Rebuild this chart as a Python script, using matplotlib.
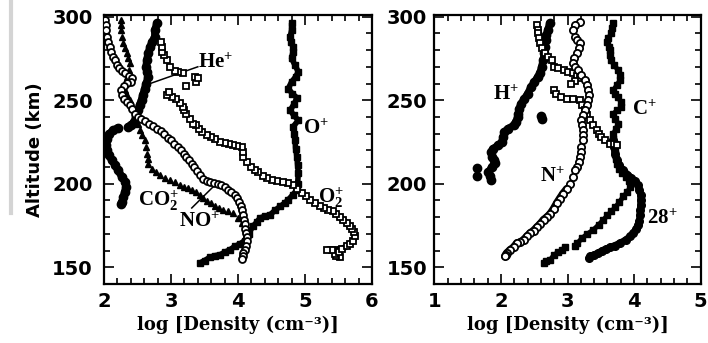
import matplotlib
matplotlib.use("Agg")
import matplotlib.pyplot as plt
import numpy as np
from matplotlib.lines import Line2D
from matplotlib.ticker import MultipleLocator

plt.rcParams['mathtext.fontset'] = 'custom'
plt.rcParams['mathtext.rm'] = 'Liberation Serif'
plt.rcParams['mathtext.bf'] = 'Liberation Serif:bold'
plt.rcParams['mathtext.default'] = 'bf'

nan = np.nan

# ---- left panel: (log density, altitude km) ----
he_plus = np.array([
    (2.79, 296), (2.76, 292), (2.76, 288), (2.72, 285), (2.69, 282), (2.66, 278),
    (2.64, 274), (2.63, 270), (2.64, 267), (2.66, 264), (2.63, 260), (2.61, 257),
    (2.58, 253), (2.56, 250), (2.53, 247), (2.51, 244), (2.48, 240), (2.45, 237),
    (2.40, 235), (2.36, 234), (nan, nan),
    (2.21, 233.5), (2.14, 232), (2.08, 230), (2.04, 227), (2.03, 223), (2.04, 220),
    (2.07, 217), (2.12, 214), (2.17, 211), (2.21, 208), (2.27, 204), (2.32, 201),
    (2.33, 198), (2.31, 195), (2.29, 192), (2.27, 189), (2.26, 188)])

o_plus = np.array([
    (3.43, 152.6), (3.50, 154), (3.58, 156), (3.66, 157), (3.73, 157.5), (3.80, 159),
    (3.88, 160.5), (3.95, 162.5), (4.03, 164), (4.10, 166), (4.16, 170), (4.22, 174.5),
    (4.28, 177), (4.33, 179.6), (4.40, 180.5), (4.48, 181.5), (4.55, 184), (4.63, 186.5),
    (4.70, 188.5), (4.75, 190.4), (4.82, 193.5), (4.88, 196.4), (4.89, 200), (4.90, 206.5),
    (4.89, 211), (4.88, 216), (4.86, 221), (4.85, 226), (4.84, 230), (4.82, 234),
    (4.90, 238), (4.83, 241), (4.78, 244), (4.84, 248), (4.88, 251.4), (4.81, 254),
    (4.75, 257), (4.80, 261), (4.86, 264), (4.90, 267), (4.85, 271), (4.80, 275),
    (4.82, 279), (4.82, 282), (4.79, 285), (4.78, 288), (4.80, 292), (4.80, 296)])

o2_plus = np.array([
    (5.52, 156), (5.47, 156.5), (5.45, 158), (5.50, 159), (5.40, 160.5), (5.33, 160.5),
    (5.55, 161), (5.62, 162.5), (5.67, 164), (5.72, 166), (5.75, 168.5), (5.73, 171),
    (5.70, 173), (5.67, 174.5), (5.62, 176.5), (5.57, 178.5), (5.52, 180), (5.47, 182),
    (5.42, 183.5), (5.35, 184.5), (5.28, 185.5), (5.22, 186.5), (5.15, 188.5), (5.07, 190.4),
    (5.01, 192.5), (4.95, 194.4), (4.88, 197), (4.82, 199), (4.75, 200.4), (4.67, 200.8),
    (4.58, 201.4), (4.50, 202.5), (4.43, 203.5), (4.38, 204.4), (4.30, 207), (4.25, 208.5),
    (4.20, 210.3), (4.14, 213), (4.08, 216), (4.07, 219), (4.06, 222), (3.99, 222.5),
    (3.93, 223), (3.86, 224), (3.80, 224.5), (3.73, 225), (3.66, 226.5), (3.60, 228),
    (3.53, 229), (3.47, 231), (3.42, 233), (3.37, 235), (3.33, 236), (3.29, 239),
    (3.23, 242), (3.20, 244), (3.18, 246), (3.14, 248.5), (3.08, 251), (3.01, 252),
    (2.94, 253), (2.97, 255), (3.23, 258.6), (3.38, 261), (3.36, 264), (3.40, 263),
    (3.18, 266), (3.10, 267), (3.06, 267.5), (2.99, 270), (2.94, 274), (2.90, 277),
    (2.86, 279), (2.87, 282), (2.85, 285)])

no_plus = np.array([
    (2.02, 298), (2.03, 295), (2.03, 292), (2.04, 288), (2.06, 285), (2.09, 282),
    (2.11, 279), (2.13, 276), (2.16, 274), (2.19, 271), (2.23, 269), (2.27, 267.5),
    (2.32, 266), (2.37, 264.5), (2.42, 263), (2.40, 261), (2.35, 260.5), (2.30, 258.5),
    (2.26, 256), (2.27, 253), (2.30, 251), (2.35, 249), (2.39, 247), (2.42, 244.5),
    (2.46, 242), (2.50, 240), (2.55, 238.5), (2.61, 237.5), (2.67, 236), (2.73, 234.5),
    (2.79, 233), (2.85, 231.5), (2.90, 229.5), (2.95, 227.5), (3.00, 226), (3.05, 224),
    (3.10, 222), (3.15, 220), (3.19, 218), (3.23, 216), (3.27, 214), (3.31, 212),
    (3.35, 210), (3.39, 207.5), (3.43, 205), (3.48, 203), (3.53, 201.5), (3.58, 201),
    (3.64, 200.5), (3.70, 200), (3.75, 199), (3.80, 198), (3.85, 196.5), (3.90, 195),
    (3.95, 193.5), (3.99, 191.5), (4.02, 189), (4.04, 186.5), (4.06, 184), (4.08, 181),
    (4.09, 178.5), (4.10, 176), (4.11, 173), (4.12, 170.5), (4.13, 168), (4.13, 165.5),
    (4.12, 163), (4.10, 160.5), (4.08, 158.5), (4.07, 156.5), (4.06, 155)])

co2_plus = np.array([
    (2.26, 298), (2.26, 295), (2.26, 292), (2.27, 288), (2.29, 284), (2.31, 281),
    (2.34, 278), (2.36, 275), (2.39, 272), (2.37, 268), (2.34, 264), (2.32, 260),
    (2.31, 256), (2.35, 253), (2.39, 250), (2.42, 246), (2.46, 242), (2.48, 239),
    (2.51, 235.5), (2.54, 232), (2.57, 229), (2.61, 226), (2.63, 222), (2.64, 218),
    (2.65, 215), (2.66, 212), (2.72, 209), (2.78, 207), (2.84, 205), (2.91, 203.5),
    (2.99, 202.4), (3.06, 200.8), (3.13, 199.4), (3.20, 198.2), (3.25, 197.3), (3.31, 196.4),
    (3.37, 194.8), (3.43, 193), (3.48, 191.5), (3.54, 189.8), (3.60, 188.2), (3.66, 186.5),
    (3.72, 185.5), (3.78, 184.5), (3.85, 183.5), (3.93, 182.5), (4.00, 179.5), (4.06, 176.5)])

# ---- right panel ----
h_plus = np.array([
    (2.73, 296), (2.70, 292), (2.68, 289), (2.67, 286), (2.66, 282), (2.65, 278),
    (2.63, 274), (2.61, 270), (2.58, 266), (2.55, 264), (2.50, 261), (2.45, 258),
    (2.40, 254), (2.35, 251), (2.30, 248), (2.27, 245), (2.26, 242), (2.25, 240),
    (2.22, 237), (2.19, 235), (2.10, 233), (2.05, 231), (2.03, 228), (2.01, 225),
    (1.95, 223), (1.88, 221), (1.85, 219), (1.86, 216), (1.89, 214), (1.91, 212.5),
    (1.86, 210), (1.81, 207), (1.83, 204.5), (1.85, 202)])
h_plus_extra = np.array([(1.64, 209.4), (1.64, 204.4), (2.60, 240.5), (2.62, 238.5)])

n_plus = np.array([
    (3.19, 297), (3.12, 295), (3.09, 292), (3.11, 288), (3.15, 286), (3.19, 284),
    (3.17, 281), (3.14, 278), (3.10, 275), (3.09, 272), (3.12, 270), (3.16, 268),
    (3.21, 265), (3.26, 262), (3.29, 259), (3.31, 256), (3.32, 253), (3.31, 250),
    (3.29, 247), (3.26, 244), (3.23, 241), (3.21, 238), (3.22, 235), (3.24, 232),
    (3.24, 229), (3.23, 226), (3.21, 222), (3.20, 219), (3.19, 216), (3.17, 213),
    (3.14, 210), (3.11, 208), (3.08, 204), (3.04, 200), (2.99, 197), (2.93, 194),
    (2.88, 191), (2.84, 188.5), (2.79, 185), (2.74, 182), (2.69, 180), (2.64, 178.5),
    (2.59, 176), (2.54, 174), (2.49, 172), (2.44, 170.5), (2.39, 168.5), (2.34, 166.5),
    (2.29, 165), (2.24, 164.5), (2.19, 162), (2.14, 160.5), (2.09, 158.6), (2.07, 157.5),
    (2.06, 156.5)])

sq_right = np.array([
    (2.54, 295), (2.55, 292), (2.56, 290), (2.57, 287), (2.59, 284), (2.62, 281),
    (2.66, 278), (2.71, 276), (2.76, 274), (2.79, 270), (2.86, 269), (2.94, 268),
    (3.01, 267), (3.09, 266), (3.15, 264.5), (3.19, 263), (3.12, 261.5), (3.05, 260),
    (2.79, 256), (2.83, 254), (2.90, 252), (2.99, 251), (3.08, 250.5), (3.19, 250),
    (3.22, 247), (3.26, 244), (3.30, 241), (3.34, 238), (3.39, 235), (3.44, 232),
    (3.48, 230), (3.51, 228), (3.57, 226), (3.64, 224), (3.70, 223.5), (3.74, 223)])

c_plus = np.array([
    (3.69, 296), (3.67, 293), (3.66, 290), (3.61, 287), (3.59, 285), (3.62, 282),
    (3.64, 280), (3.64, 277), (3.65, 274), (3.70, 271), (3.76, 268), (3.79, 265),
    (3.79, 262), (3.74, 259), (3.69, 256), (3.72, 254), (3.76, 252), (3.80, 249),
    (3.81, 246), (3.75, 244), (3.69, 242), (3.72, 239), (3.76, 236), (3.73, 233),
    (3.69, 230), (3.69, 227), (3.71, 224), (3.72, 221), (3.72, 218), (3.73, 215),
    (3.74, 212), (3.77, 209), (3.82, 206.5), (3.88, 204), (3.92, 201.5), (3.94, 198),
    (3.90, 195), (3.84, 192.5), (3.78, 189), (3.72, 186), (3.66, 183.5), (3.60, 181),
    (3.54, 178.5), (3.47, 175.5), (3.39, 172.5), (3.30, 170), (3.22, 167.5), (3.15, 164.5),
    (3.11, 162.5), (nan, nan), (2.96, 162), (2.92, 160.5), (2.86, 159), (2.80, 157.5),
    (2.74, 154.5), (2.68, 153.5), (2.64, 152.6)])

m28_plus = np.array([
    (3.68, 226), (3.70, 222), (3.71, 218), (3.74, 214), (3.78, 211), (3.84, 208),
    (3.90, 205.5), (3.96, 203.5), (4.02, 201.5), (4.06, 199), (4.08, 196), (4.10, 193),
    (4.10, 190), (4.10, 187), (4.09, 184), (4.09, 181), (4.08, 178), (4.06, 175.5),
    (4.03, 173), (3.99, 170.5), (3.94, 168.5), (3.88, 166.5), (3.79, 164.5), (3.71, 163),
    (3.64, 162), (3.58, 161), (3.52, 160), (3.46, 158.5), (3.40, 157.5), (3.34, 156.5),
    (3.32, 155.5)])

LBL = dict(family='Liberation Serif', weight='bold', fontsize=15, color='black',
           zorder=6)
TICKFONT = dict(family='DejaVu Sans', weight='bold', size=14)


def filled(ax, d, marker, ms, lw):
    ax.plot(d[:, 0], d[:, 1], color='black', lw=lw, solid_capstyle='round',
            marker=marker, ms=ms, mfc='black', mec='black', zorder=3)


def hollow(ax, d, marker, ms, mew=1.3):
    ax.plot(d[:, 0], d[:, 1], ls='none', marker=marker, ms=ms, mfc='white',
            mec='black', mew=mew, zorder=4)


def dense(ax, d, lw):
    # where the scanned markers pile up into a solid band
    ax.plot(d[:, 0], d[:, 1], color='black', lw=lw, solid_capstyle='round', zorder=3)


def style(ax, xlim, pad_y):
    ax.set_xlim(*xlim)
    ax.set_ylim(140, 301)
    ax.xaxis.set_major_locator(MultipleLocator(1))
    ax.xaxis.set_minor_locator(MultipleLocator(0.2))
    ax.yaxis.set_major_locator(MultipleLocator(50))
    ax.yaxis.set_minor_locator(MultipleLocator(10))
    ax.tick_params(which='both', direction='in', top=True, right=True, width=1.2)
    ax.tick_params(which='major', length=7)
    ax.tick_params(which='minor', length=4)
    ax.tick_params(axis='y', pad=pad_y)
    ax.tick_params(axis='x', pad=6)
    for lab in ax.get_xticklabels() + ax.get_yticklabels():
        lab.set_fontproperties(TICKFONT)
    for s in ax.spines.values():
        s.set_linewidth(1.6)
    ax.set_xlabel('log [Density (cm⁻³)]', family='DejaVu Serif', weight='bold',
                  fontsize=13, labelpad=3)


fig = plt.figure(figsize=(7.08, 3.43), dpi=100)
ax1 = fig.add_axes([104 / 708, 1 - 284 / 343, 268 / 708, 269 / 343])
ax2 = fig.add_axes([434.3 / 708, 1 - 284 / 343, 266.4 / 708, 269 / 343])

# left panel
filled(ax1, he_plus, 'o', 6, 5.5)
filled(ax1, o_plus, 's', 4.5, 4)
dense(ax1, o2_plus[o2_plus[:, 1] < 181], 4.5)
hollow(ax1, o2_plus, 's', 4)
dense(ax1, no_plus[no_plus[:, 1] < 196], 5)
hollow(ax1, no_plus, 'o', 5)
ax1.plot(co2_plus[:, 0], co2_plus[:, 1], ls='none', marker='^', ms=4.3,
         color='black', zorder=3)

ax1.plot([2.69, 3.4], [260, 270], color='black', lw=1.1)
ax1.plot([3.31, 3.66], [185.5, 199.4], color='black', lw=1.1)
ax1.text(3.41, 272, 'He$^{+}$', va='center', ha='left', **LBL)
ax1.text(4.97, 233, 'O$^{+}$', va='center', ha='left', **LBL)
ax1.text(2.50, 190, r'CO$_{2}^{+}$', va='center', ha='left', **LBL)
ax1.text(3.12, 177, 'NO$^{+}$', va='center', ha='left', **LBL)
ax1.text(5.2, 192, r'O$_{2}^{+}$', va='center', ha='left', **LBL)
style(ax1, (2, 6), 8)
ax1.set_ylabel('Altitude (km)', family='DejaVu Sans', weight='bold', fontsize=13,
               labelpad=6)

# right panel
filled(ax2, h_plus, 'o', 6, 5)
ax2.plot(h_plus_extra[:, 0], h_plus_extra[:, 1], ls='none', marker='o', ms=6,
         color='black')
hollow(ax2, sq_right, 's', 4)
dense(ax2, n_plus[n_plus[:, 1] < 200], 5.5)
hollow(ax2, n_plus, 'o', 5.2)
filled(ax2, c_plus, 's', 5, 3.5)
filled(ax2, m28_plus, 'o', 5.5, 5)

ax2.text(1.88, 253, 'H$^{+}$', va='center', ha='left', **LBL)
ax2.text(2.58, 204, 'N$^{+}$', va='center', ha='left', **LBL)
ax2.text(3.97, 244, 'C$^{+}$', va='center', ha='left', **LBL)
ax2.text(4.19, 179, '28$^{+}$', va='center', ha='left', **LBL)
style(ax2, (1, 5), 5)

# scan edge shading on the far left
fig.add_artist(Line2D([11 / 708, 11 / 708], [1.0, 1 - 213 / 343],
                      transform=fig.transFigure, color='#d4d4d4', lw=3))

fig.savefig('out.png', dpi=100)
